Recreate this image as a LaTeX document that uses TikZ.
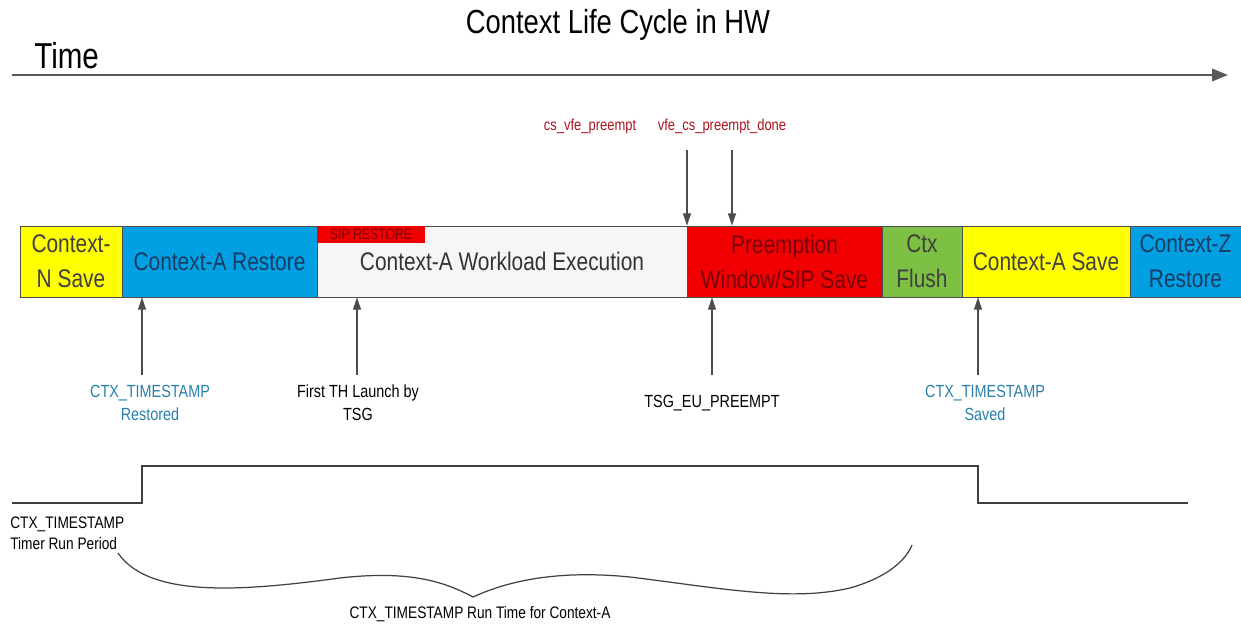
\documentclass[tikz,border=0pt]{standalone}
\usepackage{fontspec}
\setmainfont{Liberation Sans}[FakeStretch=0.82]
\usepackage{tikz}
\usetikzlibrary{arrows.meta}

\definecolor{ctxyellow}{RGB}{255,255,0}
\definecolor{ctxblue}{RGB}{0,160,226}
\definecolor{ctxred}{RGB}{240,0,0}
\definecolor{ctxgreen}{RGB}{125,192,68}
\definecolor{ctxwhite}{RGB}{246,246,246}
\definecolor{ctxteal}{RGB}{40,128,170}
\definecolor{ctxdarkred}{RGB}{170,20,30}
\definecolor{ctxdeepred}{RGB}{120,0,10}
\definecolor{ctxnavy}{RGB}{25,60,100}

\begin{document}
\begin{tikzpicture}[x=0.02cm, y=-0.02cm,
    seg/.style={rectangle, draw=black!70, minimum height=1.42cm, inner sep=1pt, align=center, font=\fontsize{14.5}{20}\selectfont},
    evt/.style={align=center, font=\fontsize{10}{13}\selectfont},
    evarrow/.style={-{Triangle[length=7pt,width=4.5pt]}, draw=black!70, thick},
    sig/.style={draw=black!75, line width=1pt}
]
    \useasboundingbox (0,0) rectangle (1241,635);

    % title and time axis
    \node[anchor=base, font=\fontsize{19}{21}\selectfont] (title) at (618,34) {Context Life Cycle in HW};
    \node[anchor=base west, inner sep=0pt, font=\fontsize{20.5}{22}\selectfont] (timelbl) at (34,69) {Time};
    \coordinate (axisL) at (12,75);
    \coordinate (axisR) at (1228,75);
    \draw[sig, draw=black!65, line width=1.3pt, -{Triangle[length=9pt,width=7pt]}] (axisL) -- (axisR);

    % context segments
    \node[seg, fill=ctxyellow, text=black!75, minimum width=2.04cm] (nsave) at (71,261.5) {Context-\\N Save};
    \node[seg, fill=ctxblue, text=ctxnavy, minimum width=3.9cm] (arestore) at (219.5,261.5) {Context-A Restore};
    \node[seg, fill=ctxwhite, text=black!80, minimum width=7.4cm] (workload) at (502,261.5) {Context-A Workload Execution};
    \node[seg, fill=ctxred, text=ctxdeepred, minimum width=3.9cm] (preempt) at (784.5,261.5) {Preemption\\Window/SIP Save};
    \node[seg, fill=ctxgreen, text=black!75, minimum width=1.6cm] (flush) at (922,261.5) {Ctx\\Flush};
    \node[seg, fill=ctxyellow, text=black!75, minimum width=3.36cm] (asave) at (1046,261.5) {Context-A Save};
    \node[seg, fill=ctxblue, text=ctxnavy, minimum width=2.22cm] (zrestore) at (1185.5,261.5) {Context-Z\\Restore};
    \node[rectangle, fill=ctxred, text=ctxdeepred, minimum width=2.16cm, minimum height=0.34cm, inner sep=0pt, font=\fontsize{8.5}{9}\selectfont] (siprestore) at (371,234.5) {SIP RESTORE};

    % preemption events
    \node[evt, text=ctxdarkred, font=\fontsize{9}{12}\selectfont] (cslbl) at (590,126) {cs\_vfe\_preempt};
    \node[evt, text=ctxdarkred, font=\fontsize{9}{12}\selectfont] (vfelbl) at (722,126) {vfe\_cs\_preempt\_done};
    \coordinate (csTop) at (687,150);
    \coordinate (vfeTop) at (732,150);
    \draw[evarrow] (csTop) -- (csTop |- preempt.north);
    \draw[evarrow] (vfeTop) -- (vfeTop |- preempt.north);

    % events below the bar
    \coordinate (ev1) at (142,375);
    \coordinate (ev2) at (357,375);
    \coordinate (ev3) at (712,375);
    \coordinate (ev4) at (978,375);
    \draw[evarrow] (ev1) -- (ev1 |- arestore.south);
    \draw[evarrow] (ev2) -- (ev2 |- workload.south);
    \draw[evarrow] (ev3) -- (ev3 |- preempt.south);
    \draw[evarrow] (ev4) -- (ev4 |- asave.south);

    \node[evt, text=ctxteal] (restoredlbl) at (150,403) {CTX\_TIMESTAMP\\Restored};
    \node[evt] (launchlbl) at (358,403) {First TH Launch by\\TSG};
    \node[evt] (eupreemptlbl) at (712,403) {TSG\_EU\_PREEMPT};
    \node[evt, text=ctxteal] (savedlbl) at (985,403) {CTX\_TIMESTAMP\\Saved};

    % timer run period
    \coordinate (s0) at (12,503);
    \coordinate (s1) at (142,503);
    \coordinate (s2) at (142,466);
    \coordinate (s3) at (978,466);
    \coordinate (s4) at (978,503);
    \coordinate (s5) at (1188,503);
    \draw[sig] (s0) -- (s1) -- (s2) -- (s3) -- (s4) -- (s5);

    \node[evt, anchor=north west, align=left, inner sep=0pt, font=\fontsize{9.5}{12.5}\selectfont] (periodlbl) at (10,516) {CTX\_TIMESTAMP\\Timer Run Period};

    \coordinate (brL) at (118,553);
    \coordinate (brTip) at (473,597);
    \coordinate (brR) at (912,545);
    \draw[sig, line width=0.7pt] (brL) .. controls (150,600) and (250,590) .. (340,578)
        .. controls (410,570) and (445,582) .. (brTip)
        .. controls (510,580) and (560,570) .. (630,577)
        .. controls (720,588) and (790,602) .. (850,588)
        .. controls (885,578) and (905,562) .. (brR);

    \node[evt, font=\fontsize{9.5}{12}\selectfont] (runtimelbl) at (480,614) {CTX\_TIMESTAMP Run Time for Context-A};
\end{tikzpicture}
\end{document}
